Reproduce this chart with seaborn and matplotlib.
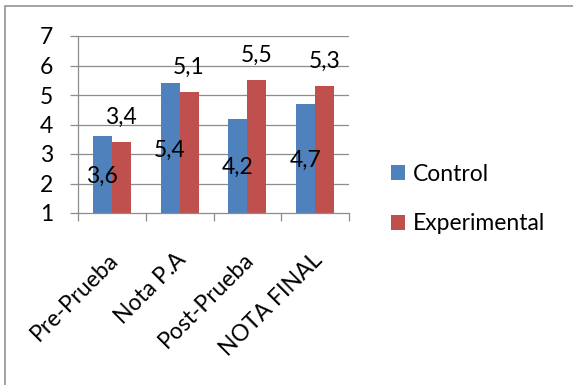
import matplotlib
matplotlib.use("Agg")
import matplotlib.pyplot as plt
import matplotlib.transforms as mtransforms
from matplotlib.patches import Rectangle
import seaborn as sns
import pandas as pd

categories = ["Pre-Prueba", "Nota P.A", "Post-Prueba", "NOTA FINAL"]
control = [3.6, 5.4, 4.2, 4.7]
experimental = [3.4, 5.1, 5.5, 5.3]
series_names = ["Control", "Experimental"]
yticks = [1, 2, 3, 4, 5, 6, 7]

df = pd.DataFrame({
    "categoria": categories * 2,
    "valor": control + experimental,
    "grupo": [series_names[0]] * 4 + [series_names[1]] * 4,
})

sns.set_theme(style="white")
plt.rcParams["font.family"] = ["Lato", "DejaVu Sans"]
FS = 16.5
GRID = "#8c8c8c"

W, H, DPI = 573, 385, 100
fig = plt.figure(figsize=(W / DPI, H / DPI), dpi=DPI)
ax = fig.add_axes([78 / W, 1 - 213 / H, (349 - 78) / W, (213 - 36) / H])

palette = {"Control": "#4F81BD", "Experimental": "#C0504D"}
sns.barplot(data=df, x="categoria", y="valor", hue="grupo", order=categories,
            hue_order=series_names, palette=palette, width=0.56, gap=0,
            saturation=1, ax=ax, legend=True, linewidth=0)

ax.set_ylim(1, 7)
ax.set_xlim(-0.5, len(categories) - 0.5)
ax.set_yticks(yticks)
ax.set_yticklabels([str(t) for t in yticks], fontsize=FS, color="black")
ax.set_xlabel("")
ax.set_ylabel("")

# horizontal gridlines
for t in yticks[1:]:
    ax.axhline(t, color=GRID, lw=0.9, zorder=0)
ax.set_axisbelow(True)

for side in ["top", "right"]:
    ax.spines[side].set_visible(False)
for side in ["left", "bottom"]:
    ax.spines[side].set_color(GRID)
    ax.spines[side].set_linewidth(0.9)

# category boundary ticks on x, outward ticks on y
ax.set_xticks([i - 0.5 for i in range(len(categories) + 1)], minor=True)
ax.tick_params(axis="x", which="minor", length=5.8, width=0.9, color=GRID, bottom=True)
ax.tick_params(axis="x", which="major", length=0, pad=26)
ax.tick_params(axis="y", which="major", length=5.8, width=0.9, color=GRID, left=True, pad=12)

ax.set_xticks(range(len(categories)))
ax.set_xticklabels(categories, rotation=45, ha="right", va="top",
                   rotation_mode="anchor", fontsize=FS, color="black")
shift = mtransforms.ScaledTranslation(-4 / DPI, 0, fig.dpi_scale_trans)
for lab in ax.get_xticklabels():
    lab.set_transform(lab.get_transform() + shift)

# value labels
fmt = lambda v: f"{v:.1f}".replace(".", ",")
ctrl_bars, exp_bars = ax.containers[0], ax.containers[1]
for bar, v in zip(ctrl_bars, control):
    cx = bar.get_x() + bar.get_width() / 2
    ax.annotate(fmt(v), (cx, (1 + v) / 2), xytext=(0, -6), textcoords="offset points",
                ha="center", va="baseline", fontsize=FS, color="black")
for bar, v in zip(exp_bars, experimental):
    cx = bar.get_x() + bar.get_width() / 2
    ax.annotate(fmt(v), (cx, v), xytext=(0, 13), textcoords="offset points",
                ha="center", va="baseline", fontsize=FS, color="black")

# legend to the right of the plot
leg = ax.legend(loc="center left", bbox_to_anchor=(391 / W, 1 - 199 / H),
                bbox_transform=fig.transFigure, frameon=False, fontsize=FS,
                handlelength=0.62, handleheight=0.62, handletextpad=0.35,
                labelspacing=1.25, borderpad=0, borderaxespad=0)
for txt in leg.get_texts():
    txt.set_color("black")

# outer chart frame
fig.patches.append(Rectangle((5 / W, -0.2), 1.2, (1 - 6 / H) + 0.2,
                             transform=fig.transFigure, fill=False,
                             edgecolor="#8a8a8a", lw=1.1))

fig.savefig("out.png", dpi=DPI)
